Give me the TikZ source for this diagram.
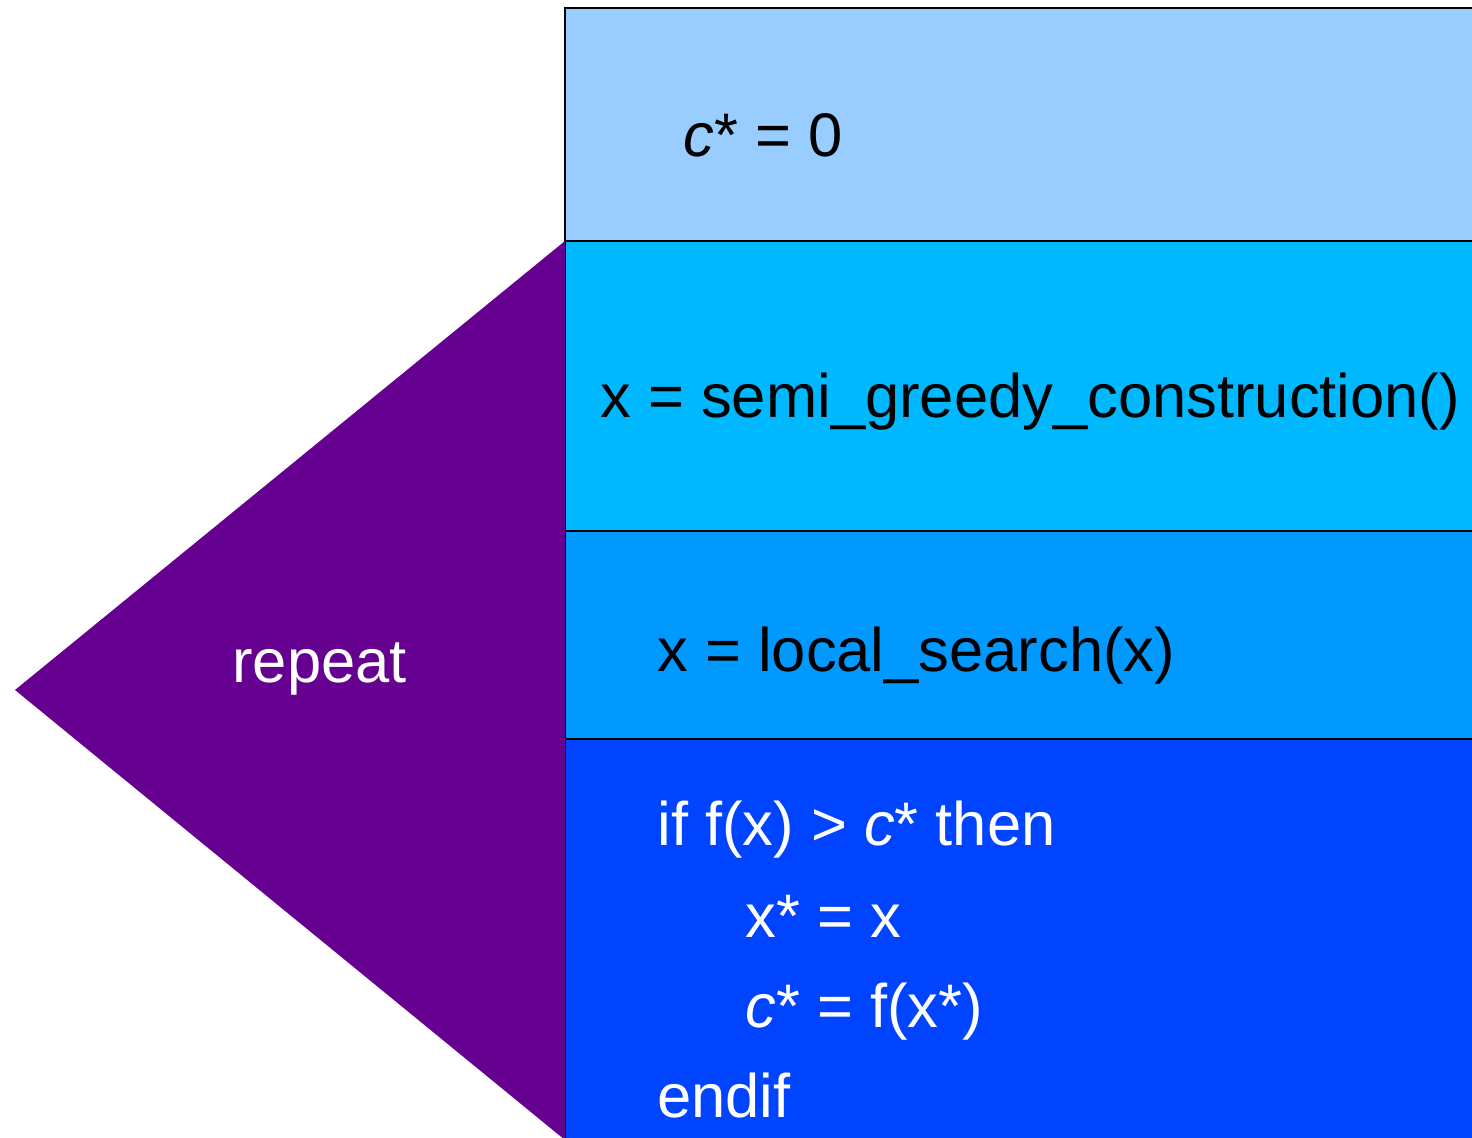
\documentclass[tikz,border=0pt]{standalone}
\usepackage{fontspec}
\setmainfont{Liberation Sans}
\usepackage{xcolor}
\usetikzlibrary{positioning}

\definecolor{initblue}{RGB}{153,204,255}
\definecolor{constrblue}{RGB}{0,184,255}
\definecolor{lsblue}{RGB}{0,153,255}
\definecolor{updblue}{RGB}{0,68,255}
\definecolor{loopviolet}{RGB}{102,0,144}

\begin{document}
\begin{tikzpicture}[
  stage/.style={rectangle, draw=black, line width=0.9pt, minimum width=18.4cm, outer sep=0pt, inner sep=0pt},
  code/.style={anchor=base west, inner sep=0pt, font=\fontsize{35}{42}\selectfont},
]
  \clip (0,0) rectangle (29.44,-22.76);

  % the four steps
  \node[stage, fill=initblue, minimum height=4.66cm, anchor=north west] (init) at (11.3,-0.16) {};
  \node[stage, fill=constrblue, minimum height=5.8cm, below=0pt of init.south west, anchor=north west] (constr) {};
  \node[stage, fill=lsblue, minimum height=4.16cm, below=0pt of constr.south west, anchor=north west] (ls) {};
  \node[stage, fill=updblue, minimum height=8.2cm, below=0pt of ls.south west, anchor=north west] (upd) {};

  % loop wedge
  \coordinate (apex) at (0.3,-13.8);
  \coordinate (foot) at (11.3,-22.8);
  \fill[loopviolet] (constr.north west) -- (apex) -- (foot) -- cycle;
  \node[code, text=white] (rep) at (4.64,-13.66) {repeat};

  \node[code] (cinit) at (13.66,-3.14) {\textit{c}* = 0};
  \node[code] (xcon) at (12.0,-8.36) {x = semi\_greedy\_construction()};
  \node[code] (xls) at (13.14,-13.44) {x = local\_search(x)};
  \node[code, text=white] (ifl) at (13.14,-16.9) {if f(x) > \textit{c}* then};
  \node[code, text=white] (xbest) at (14.9,-18.74) {x* = x};
  \node[code, text=white] (cbest) at (14.9,-20.54) {\textit{c}* = f(x*)};
  \node[code, text=white] (endl) at (13.14,-22.34) {endif};
\end{tikzpicture}
\end{document}
